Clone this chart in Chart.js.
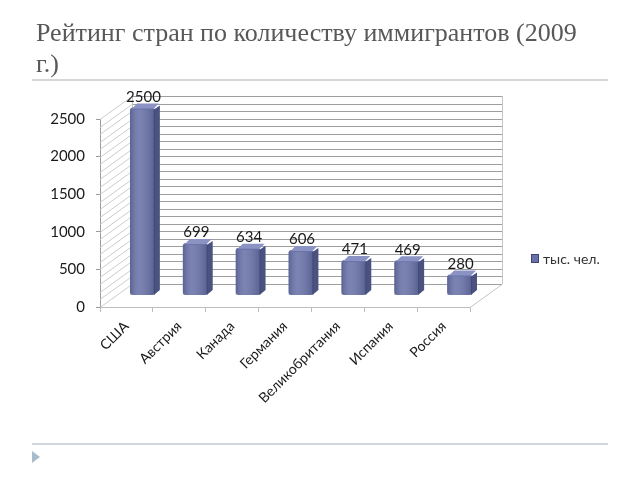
<!DOCTYPE html>
<html lang="ru">
  <head>
    <meta charset="UTF-8" />
    <title>Рейтинг стран по количеству иммигрантов</title>
    <script src="https://cdn.jsdelivr.net/npm/chart.js"></script>
    <style>
      body { margin: 0; background: #fff; }
      .slide { position: relative; width: 640px; height: 480px; overflow: hidden; }
      .title {
        position: absolute; left: 36px; top: 17px; z-index: 2;
        font-family: "Liberation Serif", serif; font-size: 26px; line-height: 31px;
        color: #585858;
      }
      .rule { position: absolute; left: 32px; width: 576px; height: 2px; background: #d3d7d9; z-index: 2; }
      .arrow {
        position: absolute; left: 32px; top: 451px; width: 0; height: 0; z-index: 2;
        border-top: 6px solid transparent; border-bottom: 6px solid transparent;
        border-left: 8px solid #a9bccb;
      }
      canvas { position: absolute; left: 0; top: 0; }
    </style>
  </head>
  <body>
    <div class="slide">
      <div class="title">Рейтинг стран по количеству иммигрантов (2009<br />г.)</div>
      <div class="rule" style="top: 79px"></div>
      <div class="rule" style="top: 443px"></div>
      <div class="arrow"></div>
      <canvas id="barChart" width="640" height="480"></canvas>
    </div>

    <script>
      const countries = ["США", "Австрия", "Канада", "Германия", "Великобритания", "Испания", "Россия"];
      const immigrants = [2500, 699, 634, 606, 471, 469, 280];
      const seriesLabel = "тыс. чел.";
      const yTicks = [0, 500, 1000, 1500, 2000, 2500];
      const gridStep = 100;

      // depth of the 3D box
      const DX = 32;
      const DY = -23;

      const wall3d = {
        id: "wall3d",
        beforeDatasetsDraw(chart) {
          const { ctx, chartArea, scales } = chart;
          const { left, right, top, bottom } = chartArea;
          const y = scales.y;
          ctx.save();
          ctx.lineWidth = 1;
          for (let v = y.min; v <= y.max; v += gridStep) {
            const py = Math.round(y.getPixelForValue(v)) + 0.5;
            ctx.strokeStyle = "#cccccc";
            ctx.beginPath();
            ctx.moveTo(left, py);
            ctx.lineTo(left + DX, py + DY);
            ctx.stroke();
            ctx.strokeStyle = "#9e9e9e";
            ctx.beginPath();
            ctx.moveTo(left + DX, py + DY);
            ctx.lineTo(right + DX, py + DY);
            ctx.stroke();
          }
          ctx.strokeStyle = "#c4c4c4";
          ctx.beginPath();
          ctx.moveTo(right + DX + 0.5, top + DY);
          ctx.lineTo(right + DX + 0.5, bottom + DY);
          ctx.moveTo(left + DX + 0.5, top + DY);
          ctx.lineTo(left + DX + 0.5, bottom + DY);
          ctx.moveTo(right, bottom + 0.5);
          ctx.lineTo(right + DX, bottom + DY + 0.5);
          ctx.stroke();
          ctx.restore();

          // bars sit in the middle of the depth
          ctx.save();
          ctx.translate(DX / 2, DY / 2);
        },
        afterDatasetsDraw(chart) {
          const { ctx } = chart;
          const meta = chart.getDatasetMeta(0);
          const d = 5, e = -4;
          meta.data.forEach((bar, i) => {
            const w = bar.width;
            const l = bar.x - w / 2, r = bar.x + w / 2;
            const t = bar.y, b = bar.base;
            // side face
            ctx.fillStyle = "#4a5280";
            ctx.beginPath();
            ctx.moveTo(r - 1, t + 2);
            ctx.lineTo(r + d, t + e + 2);
            ctx.lineTo(r + d, b + e - 1);
            ctx.lineTo(r - 1, b);
            ctx.closePath();
            ctx.fill();
            // top face
            ctx.fillStyle = "#8a93c3";
            ctx.beginPath();
            ctx.moveTo(l + 2, t + 1);
            ctx.lineTo(l + d + 2, t + e);
            ctx.lineTo(r + d - 1, t + e);
            ctx.lineTo(r - 1, t + 1);
            ctx.closePath();
            ctx.fill();
            // shading of the front face
            const g = ctx.createLinearGradient(l, 0, r, 0);
            g.addColorStop(0, "rgba(40,45,80,0.25)");
            g.addColorStop(0.35, "rgba(255,255,255,0.12)");
            g.addColorStop(1, "rgba(30,35,70,0.25)");
            ctx.fillStyle = g;
            ctx.fillRect(l, t + 2, w, b - t - 2);
            // value label
            ctx.fillStyle = "#1a1a1a";
            ctx.font = "15px Lato";
            ctx.textAlign = "center";
            ctx.textBaseline = "bottom";
            ctx.fillText(String(immigrants[i]), bar.x + 1, t - 3);
          });
          ctx.restore();
        },
        afterDraw(chart) {
          const { ctx } = chart;
          const color = chart.data.datasets[0].backgroundColor;
          ctx.save();
          ctx.fillStyle = color;
          ctx.fillRect(531, 254, 8, 9);
          ctx.strokeStyle = "#3e4570";
          ctx.strokeRect(531.5, 254.5, 7, 8);
          ctx.fillStyle = "#333";
          ctx.font = "14px Lato";
          ctx.textBaseline = "middle";
          ctx.fillText(chart.data.datasets[0].label, 543, 259);
          ctx.restore();
        },
      };

      new Chart(document.getElementById("barChart"), {
        type: "bar",
        data: {
          labels: countries,
          datasets: [
            {
              label: seriesLabel,
              data: immigrants,
              backgroundColor: "#6872a8",
              borderRadius: 3,
              borderSkipped: false,
              categoryPercentage: 1,
              barPercentage: 0.47,
              clip: false,
            },
          ],
        },
        options: {
          responsive: false,
          animation: false,
          layout: { padding: { left: 40, top: 119, right: 170, bottom: 43 } },
          plugins: { legend: { display: false }, tooltip: { enabled: false } },
          scales: {
            x: {
              afterFit(scale) { scale.height = 130; },
              grid: { drawOnChartArea: false, color: "#bdbdbd", tickLength: 5 },
              border: { color: "#bdbdbd" },
              ticks: {
                minRotation: 45,
                maxRotation: 45,
                color: "#1a1a1a",
                font: { family: "Lato", size: 14 },
                padding: 6,
              },
            },
            y: {
              min: 0,
              max: 2500,
              afterFit(scale) { scale.width = 60; },
              afterBuildTicks(scale) { scale.ticks = yTicks.map((v) => ({ value: v })); },
              grid: { drawOnChartArea: false, color: "#9a9a9a", tickLength: 4 },
              border: { color: "#9a9a9a" },
              ticks: {
                color: "#1a1a1a",
                font: { family: "Lato", size: 15 },
                padding: 11,
                callback: (v) => String(v),
              },
            },
          },
        },
        plugins: [wall3d],
      });
    </script>
  </body>
</html>
